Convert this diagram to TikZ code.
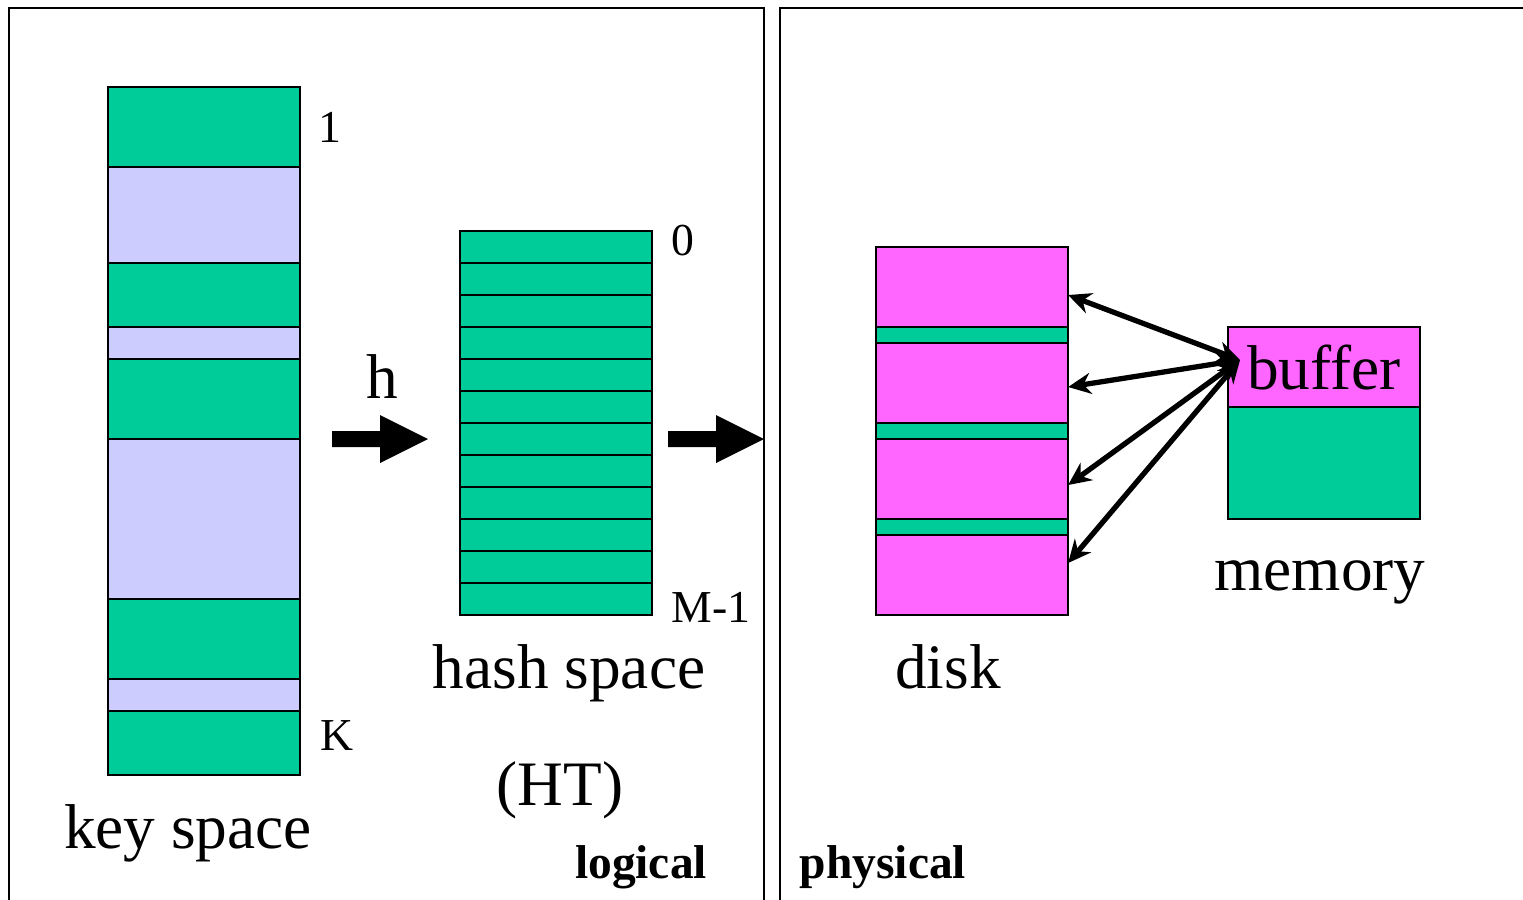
\documentclass[tikz,border=0pt]{standalone}
\usepackage{fontspec}
\setmainfont{Liberation Serif}
\usetikzlibrary{arrows.meta}
\definecolor{kgreen}{RGB}{0,204,153}
\definecolor{klav}{RGB}{204,204,255}
\definecolor{kpink}{RGB}{255,102,255}

\begin{document}
\begin{tikzpicture}[x=0.01cm,y=-0.01cm]
	\tikzstyle{every node}=[inner sep=0pt]
	\tikzstyle{cell}=[draw=black,line width=0.75pt]
	\tikzstyle{blk}=[cell,outer sep=0pt,minimum width=1.92cm,anchor=north west]
	\tikzstyle{big}=[font=\fontsize{18}{20}\selectfont,anchor=base]
	\tikzstyle{small}=[font=\fontsize{13}{15}\selectfont,anchor=base]
	\tikzstyle{tag}=[font=\fontsize{13.5}{15}\selectfont\bfseries,anchor=base]
	\tikzstyle{dbl}=[{Stealth[length=6.5pt,width=6pt]}-{Stealth[length=6.5pt,width=6pt]},line width=1.5pt]

	\useasboundingbox (0,0) rectangle (1523,900);

	%% frames
	\draw[line width=0.85pt] (9,910) -- (9,8) -- (764,8) -- (764,910);
	\draw[line width=0.85pt] (780,910) -- (780,8) -- (1530,8);

	%% key space
	\foreach \t/\b/\c in {87/167/kgreen,167/263/klav,263/327/kgreen,327/359/klav,359/439/kgreen,439/599/klav,599/679/kgreen,679/711/klav,711/775/kgreen}
		\draw[cell,fill=\c] (108,\t) rectangle (300,\b);

	%% hash space
	\foreach \i in {0,...,11}
		\draw[cell,fill=kgreen] (460,{231+32*\i}) rectangle (652,{263+32*\i});

	\fill (332,431) -- (380,431) -- (380,415) -- (428,439) -- (380,463) -- (380,447) -- (332,447) -- cycle;
	\fill (668,431) -- (716,431) -- (716,415) -- (764,439) -- (716,463) -- (716,447) -- (668,447) -- cycle;

	%% disk
	\foreach \n/\t/\h/\c in {d1/247/0.8/kpink,g1/327/0.16/kgreen,d2/343/0.8/kpink,g2/423/0.16/kgreen,d3/439/0.8/kpink,g3/519/0.16/kgreen,d4/535/0.8/kpink}
		\node[blk,fill=\c,minimum height=\h cm] (\n) at (876,\t) {};

	%% memory
	\node[blk,big,fill=kpink,minimum height=0.8cm,anchor=north west] (buf) at (1228,327) {buffer};
	\node[blk,fill=kgreen,minimum height=1.12cm] (mem) at (1228,407) {};

	\coordinate (bt) at (1240,360);
	\draw[dbl] ([yshift=-0.08cm]d1.east) -- (bt);
	\draw[dbl] ([yshift=-0.04cm]d2.east) -- (bt);
	\draw[dbl] ([yshift=-0.06cm]d3.east) -- (bt);
	\draw[dbl] ([yshift=0.12cm]d4.east) -- (bt);

	%% labels
	\node[small] (one) at (330,142) {1};
	\node[small] (kk) at (337,750) {K};
	\node[small] (zero) at (683,255) {0};
	\node[small] (mm) at (711,622) {M-1};
	\node[big] (hh) at (382,398) {h};
	\node[big] (ks) at (188,848) {key space};
	\node[big] (hs) at (569,688) {hash space};
	\node[big] (ht) at (560,805) {(HT)};
	\node[big] (dk) at (948,688) {disk};
	\node[big] (mr) at (1320,590) {memory};
	\node[tag] (lg) at (641,878) {logical};
	\node[tag] (ph) at (883,878) {physical};

\end{tikzpicture}
\end{document}
